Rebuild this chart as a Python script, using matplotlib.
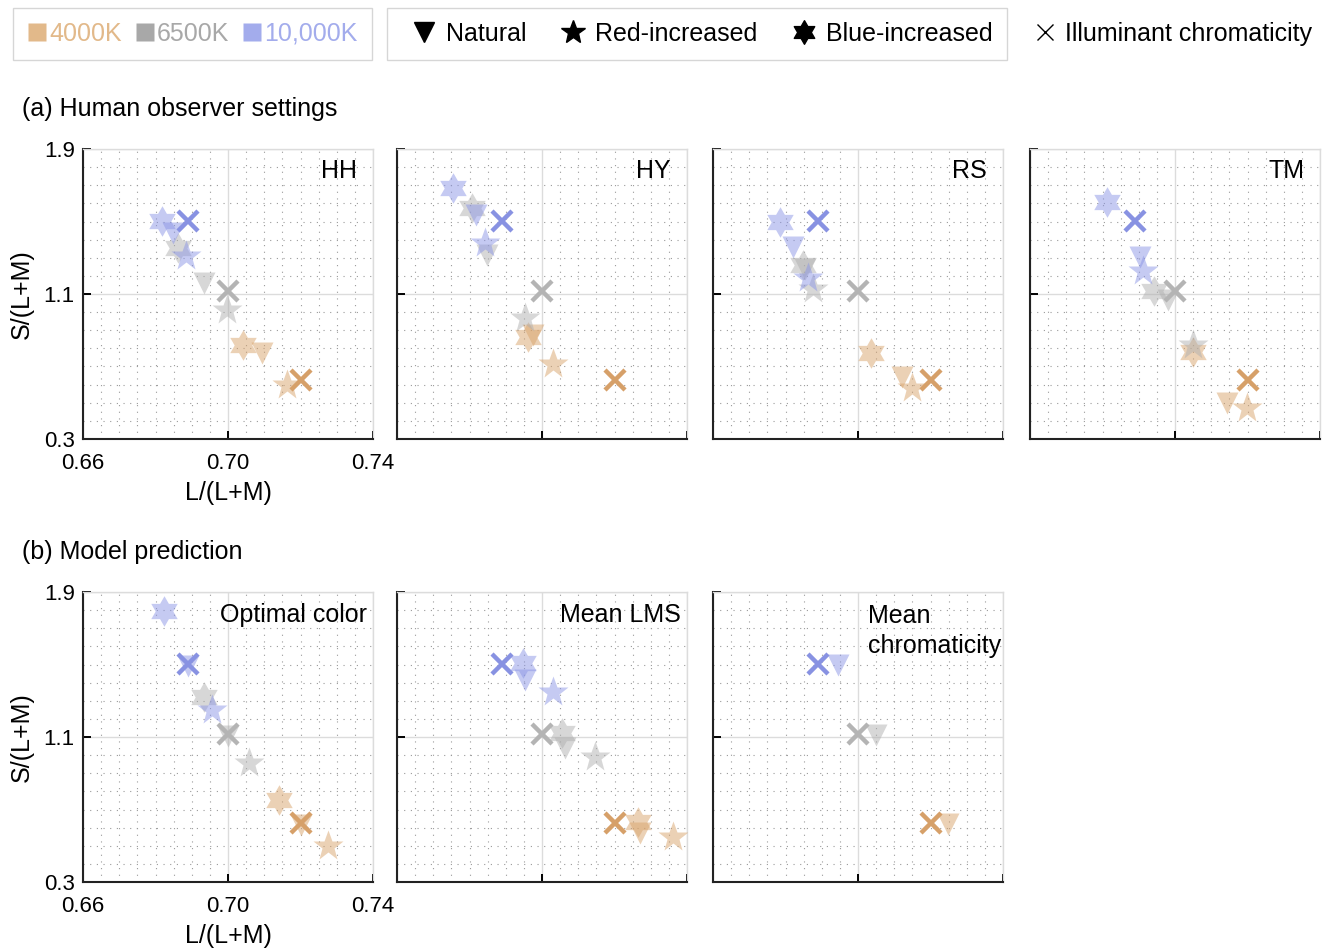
import numpy as np
import matplotlib
matplotlib.use('Agg')
import matplotlib.pyplot as plt
from matplotlib.path import Path
from matplotlib.lines import Line2D
from matplotlib.ticker import MultipleLocator

plt.rcParams['font.family'] = ['Liberation Sans', 'DejaVu Sans']

temps = ['4000K', '6500K', '10,000K']
mark_colors = ['#D9A46C', '#B0B0B0', '#8C96E6']
cross_colors = ['#D6A069', '#B4B4B4', '#8892E2']
legend_colors = ['#E2B98A', '#A8A8A8', '#A3ACEC']

# illuminant chromaticity for 4000K, 6500K, 10,000K
illum_x = [0.720, 0.700, 0.689]
illum_y = [0.623, 1.115, 1.504]

# each list: (L/(L+M), S/(L+M)) for 4000K, 6500K, 10,000K
hh_natural = [(0.7093, 0.773), (0.6934, 1.159), (0.6849, 1.435)]
hh_red = [(0.7162, 0.598), (0.6997, 1.012), (0.6884, 1.310)]
hh_blue = [(0.7042, 0.819), (0.6863, 1.352), (0.6817, 1.503)]

hy_natural = [(0.6976, 0.874), (0.6848, 1.315), (0.6818, 1.536)]
hy_red = [(0.7029, 0.714), (0.6953, 0.966), (0.6843, 1.380)]
hy_blue = [(0.6962, 0.864), (0.6808, 1.573), (0.6755, 1.683)]

rs_natural = [(0.7121, 0.644), (0.6855, 1.240), (0.6822, 1.361)]
rs_red = [(0.7149, 0.580), (0.6875, 1.126), (0.6863, 1.187)]
rs_blue = [(0.7035, 0.773), (0.6849, 1.260), (0.6785, 1.499)]

tm_natural = [(0.7144, 0.497), (0.6982, 1.067), (0.6904, 1.306)]
tm_red = [(0.7199, 0.469), (0.7051, 0.819), (0.6911, 1.229)]
tm_blue = [(0.7051, 0.782), (0.6942, 1.118), (0.6812, 1.609)]

opt_natural = [(0.7200, 0.612), (0.7000, 1.105), (0.6890, 1.490)]
opt_red = [(0.7277, 0.500), (0.7057, 0.955), (0.6955, 1.249)]
opt_blue = [(0.7141, 0.752), (0.6934, 1.322), (0.6824, 1.797)]

lms_natural = [(0.7269, 0.569), (0.7064, 1.038), (0.6953, 1.414)]
lms_red = [(0.7361, 0.547), (0.7147, 0.991), (0.7031, 1.350)]
lms_blue = [(0.7266, 0.633), (0.7055, 1.120), (0.6947, 1.507)]

chrom_natural = [(0.7248, 0.619), (0.7049, 1.109), (0.6944, 1.497)]

# six-pointed star (two overlapping triangles)
ang = np.deg2rad(90 + 30 * np.arange(12))
rad = np.where(np.arange(12) % 2 == 0, 1.0, 1 / np.sqrt(3))
hex_verts = np.column_stack([rad * np.cos(ang), rad * np.sin(ang)])
hex_verts = np.vstack([hex_verts, hex_verts[:1]])
hexagram = Path(hex_verts, closed=True)

styles = {
    'natural': dict(marker='v', ms=16),
    'red': dict(marker='*', ms=23),
    'blue': dict(marker=hexagram, ms=22),
}

fig = plt.figure(figsize=(13.28, 9.48), dpi=100)
W, H = 1328, 948
FS = 18


def make_ax(left, top):
    ax = fig.add_axes([left / W, 1 - (top + 290) / H, 290 / W, 290 / H])
    ax.set_xlim(0.66, 0.74)
    ax.set_ylim(0.3, 1.9)
    ax.set_xticks([0.66, 0.70, 0.74])
    ax.set_xticklabels(['0.66', '0.70', '0.74'])
    ax.set_yticks([0.3, 1.1, 1.9])
    ax.set_yticklabels(['0.3', '1.1', '1.9'])
    ax.xaxis.set_minor_locator(MultipleLocator(0.005))
    ax.yaxis.set_minor_locator(MultipleLocator(0.1))
    ax.grid(which='major', color='#DCDCDC', lw=1.0)
    ax.grid(which='minor', color='#9A9A9A', lw=0.8, linestyle=(0, (1, 5)))
    ax.set_axisbelow(True)
    ax.tick_params(which='minor', length=0)
    ax.tick_params(which='major', direction='in', length=6, width=1.4,
                   labelsize=16)
    ax.tick_params(axis='x', pad=10)
    ax.tick_params(axis='y', pad=6)
    for s in ['top', 'right']:
        ax.spines[s].set_color('#DCDCDC')
        ax.spines[s].set_linewidth(1.0)
    for s in ['left', 'bottom']:
        ax.spines[s].set_color('#222222')
        ax.spines[s].set_linewidth(1.5)
    return ax


def draw(ax, conds):
    for name, pts in conds:
        st = styles[name]
        for i, (x, y) in enumerate(pts):
            ax.plot(x, y, linestyle='none', marker=st['marker'], ms=st['ms'],
                    color=mark_colors[i], mec='none', alpha=0.5, zorder=3)
    for i in range(3):
        ax.plot(illum_x[i], illum_y[i], linestyle='none', marker='x', ms=15,
                mew=3.2, color=cross_colors[i], zorder=4)


def axis_labels(ax):
    ax.set_xlabel('L/(L+M)', fontsize=FS, labelpad=5)
    ax.set_ylabel('S/(L+M)', fontsize=FS, labelpad=7)


panels_top = [
    ('HH', [('blue', hh_blue), ('natural', hh_natural), ('red', hh_red)]),
    ('HY', [('blue', hy_blue), ('natural', hy_natural), ('red', hy_red)]),
    ('RS', [('blue', rs_blue), ('natural', rs_natural), ('red', rs_red)]),
    ('TM', [('blue', tm_blue), ('natural', tm_natural), ('red', tm_red)]),
]
lefts = [83, 397, 713, 1030]

for k, (label, conds) in enumerate(panels_top):
    ax = make_ax(lefts[k], 149)
    draw(ax, conds)
    ax.text(0.945, 0.924, label, transform=ax.transAxes, ha='right',
            va='center', fontsize=FS)
    if k == 0:
        axis_labels(ax)
    else:
        ax.tick_params(labelbottom=False, labelleft=False)

panels_bottom = [
    ('Optimal color', [('blue', opt_blue), ('natural', opt_natural), ('red', opt_red)]),
    ('Mean LMS', [('blue', lms_blue), ('natural', lms_natural), ('red', lms_red)]),
    ('Mean\nchromaticity', [('natural', chrom_natural)]),
]
for k, (label, conds) in enumerate(panels_bottom):
    ax = make_ax(lefts[k], 592)
    draw(ax, conds)
    if k == 2:
        ax.text(0.533, 0.958, label, transform=ax.transAxes, ha='left',
                va='top', fontsize=FS, linespacing=1.32)
    else:
        ax.text(0.978, 0.921, label, transform=ax.transAxes, ha='right',
                va='center', fontsize=FS)
    if k == 0:
        axis_labels(ax)
    else:
        ax.tick_params(labelbottom=False, labelleft=False)

fig.text(22 / W, 1 - 109 / H, '(a) Human observer settings', va='center', fontsize=FS)
fig.text(22 / W, 1 - 552 / H, '(b) Model prediction', va='center', fontsize=FS)

# legends across the top
leg_kw = dict(loc='upper left', fontsize=FS, fancybox=False,
              edgecolor='#CCCCCC', borderpad=0.56, borderaxespad=0)

temp_handles = [Line2D([], [], linestyle='none', marker='s', ms=12.5,
                       color=c, mec='none') for c in legend_colors]
leg1 = fig.legend(temp_handles, temps, bbox_to_anchor=(13 / W, 1 - 8 / H),
                  ncol=3, frameon=True, handlelength=0.8, handletextpad=0.1,
                  columnspacing=0.5, **leg_kw)
leg1.get_frame().set_linewidth(1.0)
for t, c in zip(leg1.get_texts(), legend_colors):
    t.set_color(c)

cond_handles = [
    Line2D([], [], linestyle='none', marker='v', ms=14, color='black'),
    Line2D([], [], linestyle='none', marker='*', ms=18, color='black'),
    Line2D([], [], linestyle='none', marker=hexagram, ms=17, color='black'),
]
leg2 = fig.legend(cond_handles, ['Natural', 'Red-increased', 'Blue-increased'],
                  bbox_to_anchor=(387 / W, 1 - 8 / H), ncol=3, frameon=True,
                  handlelength=1.8, handletextpad=0.0, columnspacing=0.95,
                  **leg_kw)
leg2.get_frame().set_linewidth(1.0)

cross_handle = [Line2D([], [], linestyle='none', marker='x', ms=11, mew=1.0,
                       color='black')]
fig.legend(cross_handle, ['Illuminant chromaticity'],
           bbox_to_anchor=(1013 / W, 1 - 8 / H), frameon=False,
           handlelength=1.4, handletextpad=0.1, **leg_kw)

fig.savefig('out.png', dpi=100)
